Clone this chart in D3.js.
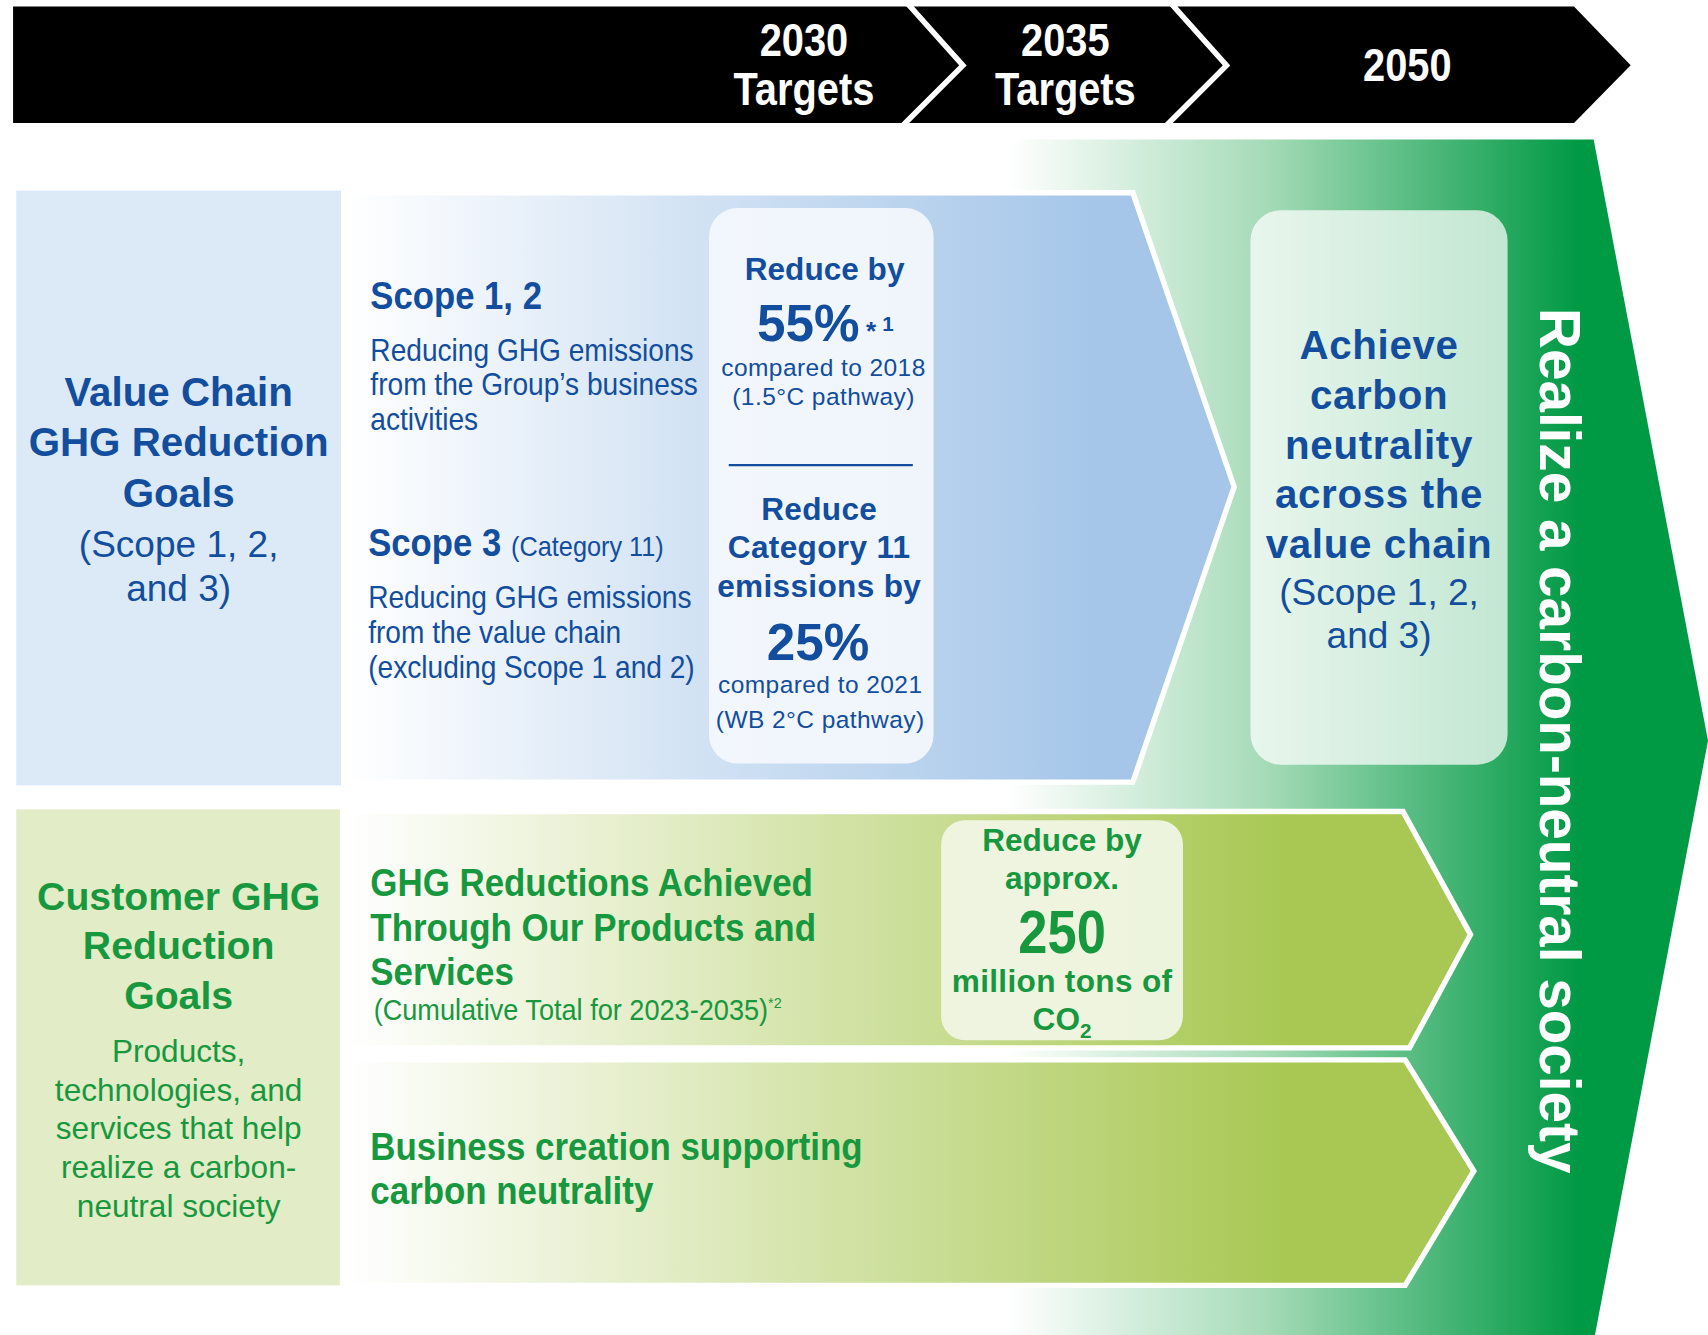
<!DOCTYPE html>
<html><head><meta charset="utf-8">
<script src="https://cdn.jsdelivr.net/npm/d3@7"></script>
<style>html,body{margin:0;padding:0;background:#fff;} svg{display:block;}</style>
</head><body><svg id="c" width="1708" height="1335"></svg>
<script>
// ---- content ----
const stageLabels = [["2030","Targets"],["2035","Targets"],["2050"]];
const vcTitle = ["Value Chain","GHG Reduction","Goals"];
const vcSub = ["(Scope 1, 2,","and 3)"];
const scope12Title = "Scope 1, 2";
const scope12Desc = ["Reducing GHG emissions","from the Group’s business","activities"];
const scope3Title = "Scope 3";
const scope3Note = "(Category 11)";
const scope3Desc = ["Reducing GHG emissions","from the value chain","(excluding Scope 1 and 2)"];
const t12Lead = ["Reduce by"];
const t12Value = "55%";
const t12Mark = ["*","1"];
const t12Base = ["compared to 2018","(1.5°C pathway)"];
const t3Lead = ["Reduce","Category 11","emissions by"];
const t3Value = "25%";
const t3Base = ["compared to 2021","(WB 2°C pathway)"];
const custTitle = ["Customer GHG","Reduction","Goals"];
const custSub = ["Products,","technologies, and","services that help","realize a carbon-","neutral society"];
const prodTitle = ["GHG Reductions Achieved","Through Our Products and","Services"];
const prodNote = "(Cumulative Total for 2023-2035)";
const prodMark = "*2";
const prodLead = ["Reduce by","approx."];
const prodValue = "250";
const prodUnit = ["million tons of"];
const prodGas = ["CO","2"];
const bizTitle = ["Business creation supporting","carbon neutrality"];
const cnTitle = ["Achieve","carbon","neutrality","across the","value chain"];
const cnSub = ["(Scope 1, 2,","and 3)"];
const societyText = "Realize a carbon-neutral society";

// ---- colours ----
const BLUE = "#124e9d", GREEN = "#17983f";
const FONT = "'Liberation Sans', Arial, sans-serif";

// ---- layout (design space 1568 x 1226, scaled to page) ----
const W = 1708, H = 1335;
const sx = d3.scaleLinear().domain([0,1568]).range([0,W]);
const k = sx(1) - sx(0);
const svg = d3.select("#c");
const root = svg.append("g").attr("transform",`scale(${k})`).style("font-family",FONT);
const defs = svg.append("defs");
function grad(id, x1, x2, stops){
  const g = defs.append("linearGradient").attr("id",id).attr("gradientUnits","userSpaceOnUse")
    .attr("x1",x1).attr("x2",x2).attr("y1",0).attr("y2",0);
  stops.forEach(s=>g.append("stop").attr("offset",s[0]).attr("stop-color",s[1]));
}
grad("gGreen", 925, 1450, [[0,"#ffffff"],[0.45,"#a6dbb8"],[1,"#009944"]]);
grad("gBlue", 318, 1010, [[0,"#ffffff"],[0.45,"#d3e3f4"],[1,"#a5c6e9"]]);
grad("gLime", 318, 1180, [[0,"#ffffff"],[0.4,"#dde9bb"],[1,"#a8c853"]]);

const line = d3.line();
function poly(pts, fill, stroke, sw){
  return root.append("path").attr("d", line(pts)+"Z").attr("fill",fill)
    .attr("stroke",stroke||"none").attr("stroke-width",sw||0).attr("stroke-linejoin","miter");
}
function lines(arr, o){
  arr.forEach((s,i)=>{
    const g = root.append("g").attr("transform",`translate(${o.x},${o.y+i*(o.lh||0)}) scale(${o.sx||1},1)`);
    g.append("text").attr("text-anchor",o.anchor||"middle").attr("font-size",o.size)
      .attr("font-weight",o.weight||"normal").attr("fill",o.fill).attr("letter-spacing",o.ls||0).text(s);
  });
}

// ---- big green arrow ----
poly([[905,128],[1463,128],[1568,680],[1463,1232],[905,1232]], "url(#gGreen)");

// ---- top timeline bar ----
poly([[12,6],[1445,6],[1497,60],[1445,113],[12,113]], "#000");
[832,1074].forEach(x0=>{
  root.append("path").attr("d", line([[x0,2],[x0+52,60],[x0-6,118]])).attr("fill","none")
    .attr("stroke","#fff").attr("stroke-width",5);
});
const stageX = [738, 978, 1292];
stageLabels.forEach((lab,i)=>{
  const y0 = lab.length===2 ? 51 : 74;
  lines(lab, {x:stageX[i], y:y0, lh:45, size:43, weight:"bold", fill:"#fff", sx:0.85});
});

// ---- value chain row ----
root.append("rect").attr("x",15).attr("y",175).attr("width",298).attr("height",546).attr("fill","#dce9f6");
poly([[318,177],[1040,177],[1133,447],[1040,718],[318,718]], "url(#gBlue)", "#fff", 5);
lines(vcTitle, {x:164, y:373, lh:46, size:37, weight:"bold", fill:BLUE});
lines(vcSub, {x:164, y:511, lh:41, size:34, fill:BLUE});

lines([scope12Title], {x:340, y:284, size:35, weight:"bold", fill:BLUE, anchor:"start", sx:0.91});
lines(scope12Desc, {x:340, y:331, lh:32, size:29, fill:BLUE, anchor:"start", sx:0.89});
{
  const g = root.append("g").attr("transform","translate(338,510) scale(0.91,1)");
  const t = g.append("text").attr("fill",BLUE);
  t.append("tspan").attr("font-size",35).attr("font-weight","bold").text(scope3Title);
  t.append("tspan").attr("font-size",25.5).attr("dx",10).text(scope3Note);
}
lines(scope3Desc, {x:338, y:558, lh:32, size:29, fill:BLUE, anchor:"start", sx:0.89});

root.append("rect").attr("x",651).attr("y",191).attr("width",206).attr("height",510).attr("rx",26)
  .attr("fill","#f4f8fd").attr("fill-opacity",0.93);
lines(t12Lead, {x:757, y:257, size:29, weight:"bold", fill:BLUE});
lines([t12Value], {x:742, y:313, size:47, weight:"bold", fill:BLUE});
lines([t12Mark[0]], {x:795, y:312, size:24, weight:"bold", fill:BLUE, anchor:"start"});
lines([t12Mark[1]], {x:810, y:304, size:19, weight:"bold", fill:BLUE, anchor:"start"});
lines(t12Base, {x:756, y:345, lh:27, size:22.5, fill:BLUE, ls:0.4});
root.append("line").attr("x1",669).attr("x2",838).attr("y1",427).attr("y2",427).attr("stroke",BLUE).attr("stroke-width",2);
lines(t3Lead, {x:752, y:477, lh:35.5, size:29, weight:"bold", fill:BLUE, ls:0.3});
lines([t3Value], {x:751, y:606, size:47, weight:"bold", fill:BLUE});
lines(t3Base, {x:753, y:636, lh:32, size:22.5, fill:BLUE, ls:0.4});

// ---- customer row ----
root.append("rect").attr("x",15).attr("y",743).attr("width",297).attr("height",437).attr("fill","#e2ecc6");
poly([[318,745],[1288,745],[1350,858],[1294,962],[318,962]], "url(#gLime)", "#fff", 5);
poly([[318,973],[1290,973],[1353,1075],[1290,1180],[318,1180]], "url(#gLime)", "#fff", 5);
lines(custTitle, {x:164, y:835, lh:45.5, size:36, weight:"bold", fill:GREEN});
lines(custSub, {x:164, y:975, lh:35.5, size:29, fill:GREEN});

lines(prodTitle, {x:340, y:823, lh:40.5, size:35, weight:"bold", fill:GREEN, anchor:"start", sx:0.915});
{
  const g = root.append("g").attr("transform","translate(343,936) scale(0.94,1)");
  const t = g.append("text").attr("fill",GREEN).attr("font-size",26.5);
  t.append("tspan").text(prodNote);
  t.append("tspan").attr("font-size",14).attr("dy",-11).text(prodMark);
}
root.append("rect").attr("x",864).attr("y",753).attr("width",222).attr("height",202).attr("rx",22)
  .attr("fill","#f0f6e4").attr("fill-opacity",0.95);
lines(prodLead, {x:975, y:781, lh:35, size:29, weight:"bold", fill:GREEN});
lines([prodValue], {x:975, y:875, size:56, weight:"bold", fill:GREEN, sx:0.86});
lines(prodUnit, {x:975, y:911, size:29, weight:"bold", fill:GREEN, ls:0.3});
{
  const g = root.append("g").attr("transform","translate(975,946)");
  const t = g.append("text").attr("fill",GREEN).attr("font-weight","bold").attr("text-anchor","middle").attr("font-size",29);
  t.append("tspan").text(prodGas[0]);
  t.append("tspan").attr("font-size",19).attr("dy",7).text(prodGas[1]);
}
lines(bizTitle, {x:340, y:1065, lh:40.5, size:35, weight:"bold", fill:GREEN, anchor:"start", sx:0.915});

// ---- right column ----
root.append("rect").attr("x",1148).attr("y",193).attr("width",236).attr("height",509).attr("rx",28)
  .attr("fill","#ffffff").attr("fill-opacity",0.72);
lines(cnTitle, {x:1266, y:330, lh:45.5, size:37, weight:"bold", fill:BLUE, ls:0.6});
lines(cnSub, {x:1266, y:555, lh:40, size:34, fill:BLUE});

root.append("g").attr("transform","translate(1414,680) rotate(90)")
  .append("text").attr("text-anchor","middle").attr("font-size",52).attr("font-weight","bold")
  .attr("fill","#fff").text(societyText);
</script>
</body></html>
